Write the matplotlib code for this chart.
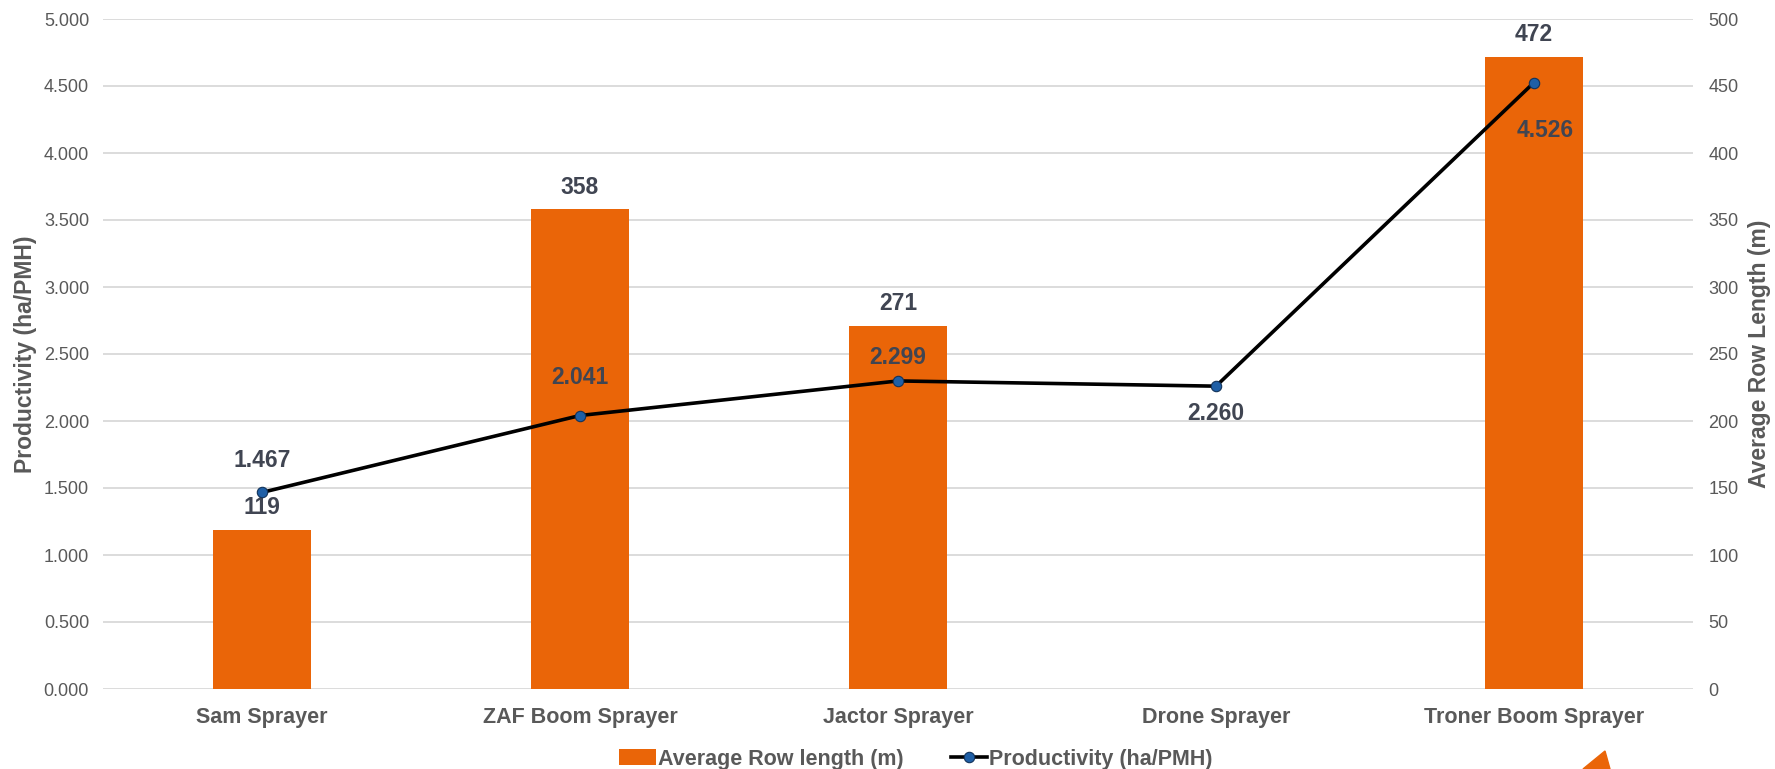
import matplotlib.pyplot as plt
from matplotlib.patches import Polygon
import numpy as np

# 資料
categories = ['Sam Sprayer', 'ZAF Boom Sprayer', 'Jactor Sprayer', 'Drone Sprayer', 'Troner Boom Sprayer']
row_length = [119, 358, 271, 0, 472]
productivity = [1.467, 2.041, 2.299, 2.260, 4.526]
left_ticks = ['0.000', '0.500', '1.000', '1.500', '2.000', '2.500', '3.000', '3.500', '4.000', '4.500', '5.000']
right_ticks = ['0', '50', '100', '150', '200', '250', '300', '350', '400', '450', '500']

# 標籤位移 (像素)
prod_offsets = [(0, 32), (0, 38), (0, 23), (0, -27), (11, -48)]

orange = '#EA6508'
grey = '#595959'
label_col = '#404552'
px = 0.72  # 1 px in points at dpi 100

plt.rcParams['font.family'] = ['Liberation Sans', 'DejaVu Sans']

fig = plt.figure(figsize=(17.75, 7.69), dpi=100)
ax = fig.add_axes([103/1775, 1-689/769, 1590/1775, 670/769])
ax2 = ax.twinx()

x = np.arange(len(categories))

# 長條 (右軸)
bars = ax2.bar(x, row_length, width=0.31, color=orange, zorder=2)
for i, v in enumerate(row_length):
    if v == 0:
        continue
    ax2.annotate(str(v), (x[i], v), xytext=(0, 22*px), textcoords='offset points',
                 ha='center', va='center', fontsize=16.5, fontweight='bold', color=label_col)

ax2.set_ylim(0, 500)
ax2.set_yticks(np.arange(0, 501, 50))
ax2.set_yticklabels(right_ticks)

# 線 (左軸) - 畫在長條之上
ax.set_zorder(ax2.get_zorder() + 1)
ax.patch.set_visible(False)
ax.plot(x, productivity, color='black', lw=2.6, marker='o', markersize=7.5,
        markerfacecolor='#1f5fa6', markeredgecolor='#12335a', markeredgewidth=0.8, zorder=3)
for i, v in enumerate(productivity):
    dx, dy = prod_offsets[i]
    ax.annotate(f'{v:.3f}', (x[i], v), xytext=(dx*px, dy*px), textcoords='offset points',
                ha='center', va='center', fontsize=16.5, fontweight='bold', color=label_col)

ax.set_ylim(0, 5)
ax.set_yticks(np.arange(0, 5.01, 0.5))
ax.set_yticklabels(left_ticks)
ax.set_xlim(-0.5, 4.5)
ax.set_xticks(x)
ax.set_xticklabels(categories, fontsize=15.5, fontweight='bold', color=grey)

# 格線
for yv in np.arange(0, 501, 50):
    ax2.axhline(yv, color='#d9d9d9', lw=1.3, zorder=0)

for a in (ax, ax2):
    for s in a.spines.values():
        s.set_visible(False)
    a.tick_params(length=0)

ax.tick_params(axis='y', labelsize=13, labelcolor=grey, pad=10)
ax.tick_params(axis='x', pad=13)
ax2.tick_params(axis='y', labelsize=13, labelcolor=grey, pad=11)

ax.set_ylabel('Productivity (ha/PMH)', fontsize=16.5, fontweight='bold', color=grey, labelpad=5)
ax2.set_ylabel('Average Row Length (m)', fontsize=16.5, fontweight='bold', color=grey, labelpad=7)

# 圖例
h2, = ax.plot([], [], color='black', lw=2.6, marker='o', markersize=7.5,
              markerfacecolor='#1f5fa6', markeredgecolor='#12335a', markeredgewidth=0.8)
fig.legend([bars, h2], ['Average Row length (m)', 'Productivity (ha/PMH)'],
           loc='center', bbox_to_anchor=(916/1775, 1-759/769), ncol=2, frameon=False,
           prop={'family': ['Liberation Sans Narrow', 'Liberation Sans'], 'weight': 'bold', 'size': 15.5},
           labelcolor=grey, handlelength=1.7, handletextpad=0.1, columnspacing=2.2,
           borderpad=0)

# 右下角的橘色三角
tri = Polygon([(1583/1775, 0), (1605/1775, 18/769), (1610/1775, 0)], closed=True,
              transform=fig.transFigure, color=orange)
fig.patches.append(tri)

fig.savefig('out.png', dpi=100)
